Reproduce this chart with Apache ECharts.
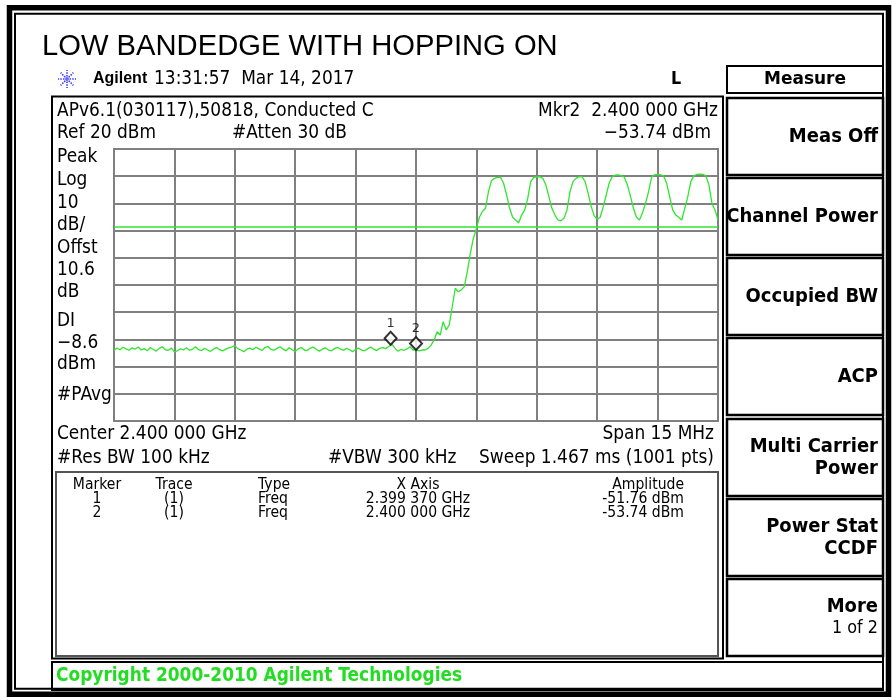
<!DOCTYPE html>
<html>
<head>
<meta charset="utf-8">
<script src="https://cdn.jsdelivr.net/npm/echarts@6/dist/echarts.min.js"></script>
<style>html,body{margin:0;padding:0;background:#fff}#c{width:896px;height:700px}</style>
</head>
<body>
<div id="c"></div>
<script>
// ---------- data ----------
const chartTitle = 'LOW BANDEDGE WITH HOPPING ON';
const sweepStartMHz = 2392.5;   // center 2.400 000 GHz, span 15 MHz
const sweepStopMHz = 2407.5;
const refLevelDbm = 20;
const dbPerDiv = 10;
const displayLineDbm = -8.6;
// trace amplitude (dBm), sampled evenly across the sweep
const traceDbm = [
-54.1,-53.2,-53.8,-52.9,-53.5,-54.0,-53.1,-53.6,-52.8,-53.9,
-53.4,-54.2,-53.0,-53.7,-54.3,-53.3,-52.7,-53.8,-54.0,-53.2,
-54.6,-54.2,-53.5,-53.9,-53.1,-54.0,-53.6,-52.7,-53.8,-54.1,
-53.3,-53.9,-54.4,-53.5,-53.0,-53.8,-54.2,-53.6,-53.1,-52.8,
-52.3,-53.4,-53.9,-54.5,-53.6,-53.2,-53.8,-52.9,-53.5,-54.1,
-53.0,-52.6,-53.7,-54.0,-53.3,-52.7,-53.6,-54.2,-53.1,-53.8,
-54.4,-53.5,-53.0,-53.9,-54.1,-53.2,-52.8,-53.7,-54.3,-53.6,
-53.1,-53.9,-54.2,-53.4,-52.9,-53.6,-54.0,-53.3,-53.8,-54.5,
-53.7,-53.2,-53.9,-54.2,-53.5,-52.8,-53.6,-54.1,-53.3,-53.0,
-53.4,-52.6,-51.76,-53.2,-54.3,-53.7,-54.0,-53.5,-52.7,-53.9,
-53.74,-54.2,-53.9,-53.9,-53.3,-52.1,-50.2,-47.2,-48.4,-43.5,
-46.5,-44.7,-38.0,-31.2,-32.5,-31.8,-30.6,-25.1,-18.4,-12.8,
-9.2,-5.1,-3.0,-1.8,4.3,8.4,9.2,9.6,9.6,7.4,
3.1,-1.8,-5.1,-6.1,-7.1,-4.3,-2.4,1.9,8.0,9.6,
9.8,9.8,9.2,6.8,2.5,-1.8,-4.3,-6.1,-6.4,-5.5,
-2.4,4.3,8.0,9.2,9.8,9.8,8.0,3.7,-1.0,-4.6,
-5.9,-5.1,-1.2,3.1,7.6,9.8,10.4,10.5,10.2,9.6,
6.8,2.7,-1.8,-5.1,-6.1,-3.4,0.0,4.3,9.6,10.5,
10.7,10.5,10.1,7.4,2.5,-2.4,-4.3,-5.1,-6.1,-1.8,
2.5,8.0,10.1,10.7,10.8,10.7,10.1,6.8,0.0,-2.4,
-6.1
];
const markerNames = ['1', '2'];
const markerFreqMHz = [2399.37, 2400.000];
const markerAmpDbm = [-51.76, -53.74];

const headerLeft = 'APv6.1(030117),50818, Conducted C';
const headerMkr = 'Mkr2  2.400 000 GHz';
const headerMkrAmp = '\u221253.74 dBm';
const leftLabels = ['Peak','Log','10','dB/','Offst','10.6','dB','DI','\u22128.6','dBm','#PAvg'];
const tableHeader = ['Marker','Trace','Type','X Axis','Amplitude'];
const tableRows = [
  ['1','(1)','Freq','2.399 370 GHz','-51.76 dBm'],
  ['2','(1)','Freq','2.400 000 GHz','-53.74 dBm']
];
const softkeys = [['Meas Off'],['Channel Power'],['Occupied BW'],['ACP'],['Multi Carrier','Power'],['Power Stat','CCDF'],['More','1 of 2']];

// ---------- build ----------
const nPts = traceDbm.length;
const traceData = traceDbm.map((v, i) => [sweepStartMHz + i * (sweepStopMHz - sweepStartMHz) / (nPts - 1), v]);
const markerData = markerFreqMHz.map((f, i) => [f, markerAmpDbm[i]]);

const GREEN = '#2fe62f';
const MONO = 'DejaVu Sans';
function T(x, y, text, o) {
  o = o || {};
  return {
    type: 'text', x: x, y: y, silent: true, z: 10,
    scaleX: o.sx || 1, scaleY: o.sy || 1, originX: 0, originY: 0,
    style: {
      text: text, x: 0, y: 0, fill: o.color || '#000',
      fontFamily: o.family || MONO, fontSize: o.size || 17,
      fontWeight: o.bold ? 'bold' : 'normal',
      textAlign: o.align || 'left', textVerticalAlign: 'middle',
      align: o.align || 'left', verticalAlign: 'middle'
    }
  };
}
function R(x, y, w, h, lw, color) {
  return { type: 'rect', silent: true, z: 5, shape: { x: x, y: y, width: w, height: h },
    style: { fill: 'none', stroke: color || '#000', lineWidth: lw } };
}
const inst = { size: 17, sy: 1.1 };
const g = [];
// outer frame
g.push(R(9.5, 7.8, 879, 686.5, 5.5));
g.push(R(15, 13.7, 868, 675, 2));
// title
g.push(T(42, 47, chartTitle, { family: 'Liberation Sans', size: 29.2 }));
// agilent logo
for (let k = 0; k < 8; k++) {
  const a = k * Math.PI / 4;
  g.push({ type: 'line', silent: true, z: 10, shape: { x1: 67 + 2.5 * Math.cos(a), y1: 79 + 2.5 * Math.sin(a), x2: 67 + 9 * Math.cos(a), y2: 79 + 9 * Math.sin(a) },
    style: { stroke: '#3a3aff', lineWidth: 1.6, lineDash: [1.5, 1.2] } });
}
g.push({ type: 'circle', silent: true, z: 10, shape: { cx: 67, cy: 79, r: 2 }, style: { fill: '#6a6aff' } });
g.push(T(93, 79, 'Agilent', { family: 'Liberation Sans', bold: true, size: 16 }));
g.push(T(154, 79, '13:31:57  Mar 14, 2017', inst));
g.push(T(676, 79, 'L', { bold: true, size: 16, align: 'center', sy: 1.15 }));
// Measure title box
g.push(R(727, 66, 156, 27, 2));
g.push(T(805, 79.5, 'Measure', { bold: true, size: 17, align: 'center', sy: 1.05 }));
// display box
g.push(R(52, 96.5, 671, 562, 2));
g.push(T(57, 111, headerLeft, inst));
g.push(T(718, 111, headerMkr, Object.assign({ align: 'right' }, inst)));
g.push(T(57, 133, 'Ref 20 dBm', inst));
g.push(T(232, 133, '#Atten 30 dB', inst));
g.push(T(711, 133, headerMkrAmp, Object.assign({ align: 'right' }, inst)));
const leftY = [157, 180, 203, 225, 248, 270, 292, 321, 343, 364, 395];
leftLabels.forEach((s, i) => g.push(T(57, leftY[i], s, inst)));
g.push(T(57, 434, 'Center 2.400 000 GHz', inst));
g.push(T(714, 434, 'Span 15 MHz', Object.assign({ align: 'right' }, inst)));
g.push(T(57, 458, '#Res BW 100 kHz', inst));
g.push(T(328, 458, '#VBW 300 kHz', inst));
g.push(T(714, 458, 'Sweep 1.467 ms (1001 pts)', Object.assign({ align: 'right' }, inst)));
// marker table
g.push(R(56, 472, 662, 184, 2, '#555'));
const tab = { size: 14, sy: 1.1 };
const colX = [97, 174, 258, 418, 684];
const colA = ['center', 'center', 'left', 'center', 'right'];
tableHeader.forEach((s, c) => g.push(T(colX[c], 485, s, Object.assign({ align: colA[c] }, tab))));
tableRows.forEach((row, r) => row.forEach((s, c) => g.push(T(colX[c], 499 + r * 14, s, Object.assign({ align: colA[c] }, tab)))));
// softkeys
const keyTop = [98, 178, 258, 338, 419, 499, 579];
softkeys.forEach((lines, i) => {
  g.push(R(727, keyTop[i], 156, 77, 2.5));
  const cy = keyTop[i] + 38.5;
  if (lines.length === 1) {
    g.push(T(878, cy, lines[0], { bold: true, size: 18, align: 'right', sy: 1.1 }));
  } else {
    const bold2 = i !== 6;
    g.push(T(878, cy - 11, lines[0], { bold: true, size: 18, align: 'right', sy: 1.1 }));
    g.push(T(878, cy + 11, lines[1], { bold: bold2, size: bold2 ? 18 : 16, align: 'right', sy: 1.1 }));
  }
});
// copyright
g.push(R(52, 662, 831, 28, 2));
g.push(T(56, 676, 'Copyright 2000-2010 Agilent Technologies', { bold: true, size: 17, color: '#22dd22', sy: 1.1 }));

const chart = echarts.init(document.getElementById('c'), null, { renderer: 'canvas' });
chart.setOption({
  animation: false,
  backgroundColor: '#fff',
  grid: { left: 114, top: 149, width: 604, height: 272, show: true, borderColor: '#808080', borderWidth: 2, backgroundColor: 'transparent' },
  xAxis: { type: 'value', min: sweepStartMHz, max: sweepStopMHz, interval: 1.5,
    axisLine: { show: false }, axisTick: { show: false }, axisLabel: { show: false },
    splitLine: { show: true, lineStyle: { color: '#808080', width: 2 } } },
  yAxis: { type: 'value', min: refLevelDbm - 10 * dbPerDiv, max: refLevelDbm, interval: dbPerDiv,
    axisLine: { show: false }, axisTick: { show: false }, axisLabel: { show: false },
    splitLine: { show: true, lineStyle: { color: '#808080', width: 2 } } },
  graphic: { elements: g },
  series: [
    { type: 'line', data: traceData, showSymbol: false, symbol: 'none', smooth: false,
      lineStyle: { color: GREEN, width: 1.3 }, z: 3,
      markLine: { silent: true, symbol: 'none', label: { show: false },
        lineStyle: { color: GREEN, width: 1.6, type: 'solid' },
        data: [{ yAxis: displayLineDbm }] } },
    { type: 'scatter', data: markerData, symbol: 'diamond', symbolSize: [12, 13], symbolOffset: [0, -6], z: 4,
      itemStyle: { color: '#fff', borderColor: '#000', borderWidth: 2 },
      label: { show: true, position: 'top', distance: 1, formatter: p => markerNames[p.dataIndex],
        color: '#000', fontFamily: MONO, fontSize: 13 } }
  ]
});
</script>
</body>
</html>
